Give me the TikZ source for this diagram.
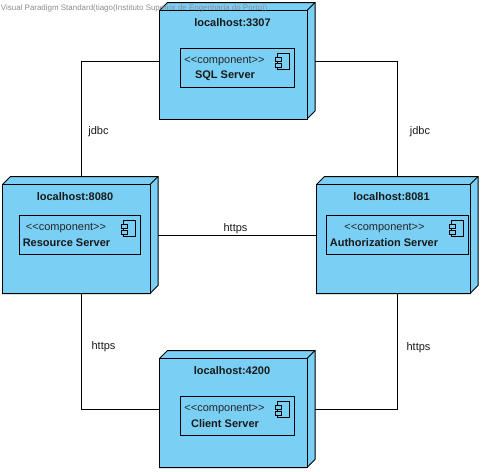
\documentclass[tikz,border=0pt]{standalone}
\usepackage{fontspec}
\setmainfont{Liberation Sans}
\tikzset{
  every node/.style={inner sep=0pt,outer sep=0pt},
  edge/.style={draw=black,line width=1pt},
  facefill/.style={draw=black,line width=1pt,fill=nodeblue,line join=miter},
  wholebox/.style={draw=none,fill=none,rectangle},
  frontbox/.style={facefill,rectangle},
  compbox/.style={draw=black,line width=1pt,rectangle,fill=nodeblue},
  glyph/.style={draw=black,line width=1pt,fill=nodeblue},
  titletext/.style={font=\fontsize{11}{13}\selectfont\bfseries,text=black!90},
  stereotext/.style={font=\fontsize{11}{13}\selectfont,text=black!85},
  nametext/.style={font=\fontsize{11}{13}\selectfont\bfseries,text=black!90},
  edgetext/.style={font=\fontsize{11}{13}\selectfont,text=black!90},
  marktext/.style={font=\fontsize{7.95}{10}\selectfont,text=black!45},
}
\definecolor{nodeblue}{RGB}{122,207,245}
% #1 name, #2 left, #3 back top, #4 back right, #5 bottom, #6 title, #7 title cx, #8 title cy
\newcommand{\depnode}[8]{%
  \pgfmathsetmacro{\wx}{(#2+#4)/2}\pgfmathsetmacro{\wy}{(#3+#5)/2}%
  \pgfmathsetmacro{\ww}{#4-(#2)}\pgfmathsetmacro{\wh}{#5-(#3)}%
  \node[wholebox,minimum width=\ww pt,minimum height=\wh pt] (#1) at (\wx,\wy) {};
  \path[facefill] (#2,#3+8) -- (#2+8,#3) -- (#4,#3) -- (#4,#5-8) -- (#4-8,#5) -- (#2,#5) -- cycle;
  \draw[edge] (#4-8,#3+8) -- (#4,#3);
  \pgfmathsetmacro{\fx}{(#2+#4-8)/2}\pgfmathsetmacro{\fy}{(#3+8+#5)/2}%
  \pgfmathsetmacro{\fw}{#4-8-(#2)}\pgfmathsetmacro{\fh}{#5-(#3)-8}%
  \node[frontbox,minimum width=\fw pt,minimum height=\fh pt] (#1-front) at (\fx,\fy) {};
  \node[titletext] (#1-title) at (#7,#8) {#6};
}
% #1 name, #2 left, #3 top, #4 right, #5 bottom, #6 stereo cx, #7 name text, #8 name cx
\newcommand{\compnode}[8]{%
  \pgfmathsetmacro{\cx}{(#2+#4)/2}\pgfmathsetmacro{\cy}{(#3+#5)/2}%
  \pgfmathsetmacro{\cw}{#4-(#2)}\pgfmathsetmacro{\ch}{#5-(#3)}%
  \node[compbox,minimum width=\cw pt,minimum height=\ch pt] (#1) at (\cx,\cy) {};
  \draw[glyph] (#4-17.5,#3+5) rectangle (#4-5,#3+21);
  \draw[glyph] (#4-19.5,#3+8.5) rectangle (#4-13,#3+13);
  \draw[glyph] (#4-19.5,#3+14.5) rectangle (#4-13,#3+19);
  \node[stereotext] (#1-stereo) at (#6,#3+12.5) {<{}<component>{}>};
  \node[nametext] (#1-name) at (#8,#3+27) {#7};
}
\begin{document}
\begin{tikzpicture}[x=1pt,y=-1pt]
\useasboundingbox (0,0) rectangle (483,472);
\coordinate (tl) at (81,61);
\coordinate (tr) at (397,61);
\coordinate (bl) at (81.5,409);
\coordinate (br) at (397,409);
\depnode{sql}{159.5}{2.5}{315}{119}{localhost:3307}{232.5}{23}
\depnode{res}{2.5}{176.5}{158}{293.5}{localhost:8080}{75}{197}
\depnode{auth}{316.5}{176.5}{478}{293.5}{localhost:8081}{391.5}{197}
\depnode{cli}{159.5}{350.5}{315}{467.5}{localhost:4200}{232}{371}
\compnode{sqlc}{180.5}{48.5}{294.5}{87.5}{224.5}{SQL Server}{225}
\compnode{resc}{19.5}{215.5}{140.5}{254.5}{66}{Resource Server}{66.5}
\compnode{authc}{326.5}{215.5}{468.5}{254.5}{384.5}{Authorization Server}{384}
\compnode{clic}{180.5}{396.5}{294.5}{435.5}{224.5}{Client Server}{225}
\draw[edge] (sql.west |- tl) -- (tl) -- (tl |- res.north);
\draw[edge] (sql.east |- tr) -- (tr) -- (tr |- auth.north);
\draw[edge] (res.east) -- (auth.west);
\draw[edge] (bl |- res.south) -- (bl) -- (bl -| cli.west);
\draw[edge] (br |- auth.south) -- (br) -- (br -| cli.east);
\node[edgetext] (jdbcl) at (98.5,132) {jdbc};
\node[edgetext] (jdbcr) at (420,132) {jdbc};
\node[edgetext] (httpsm) at (235.5,229) {https};
\node[edgetext] (httpsl) at (103.5,346.5) {https};
\node[edgetext] (httpsr) at (418.5,347.5) {https};
\node[marktext,anchor=west] (mark) at (1,8) {Visual Paradigm Standard(tiago(Instituto Superior de Engenharia do Porto))};
\end{tikzpicture}
\end{document}
